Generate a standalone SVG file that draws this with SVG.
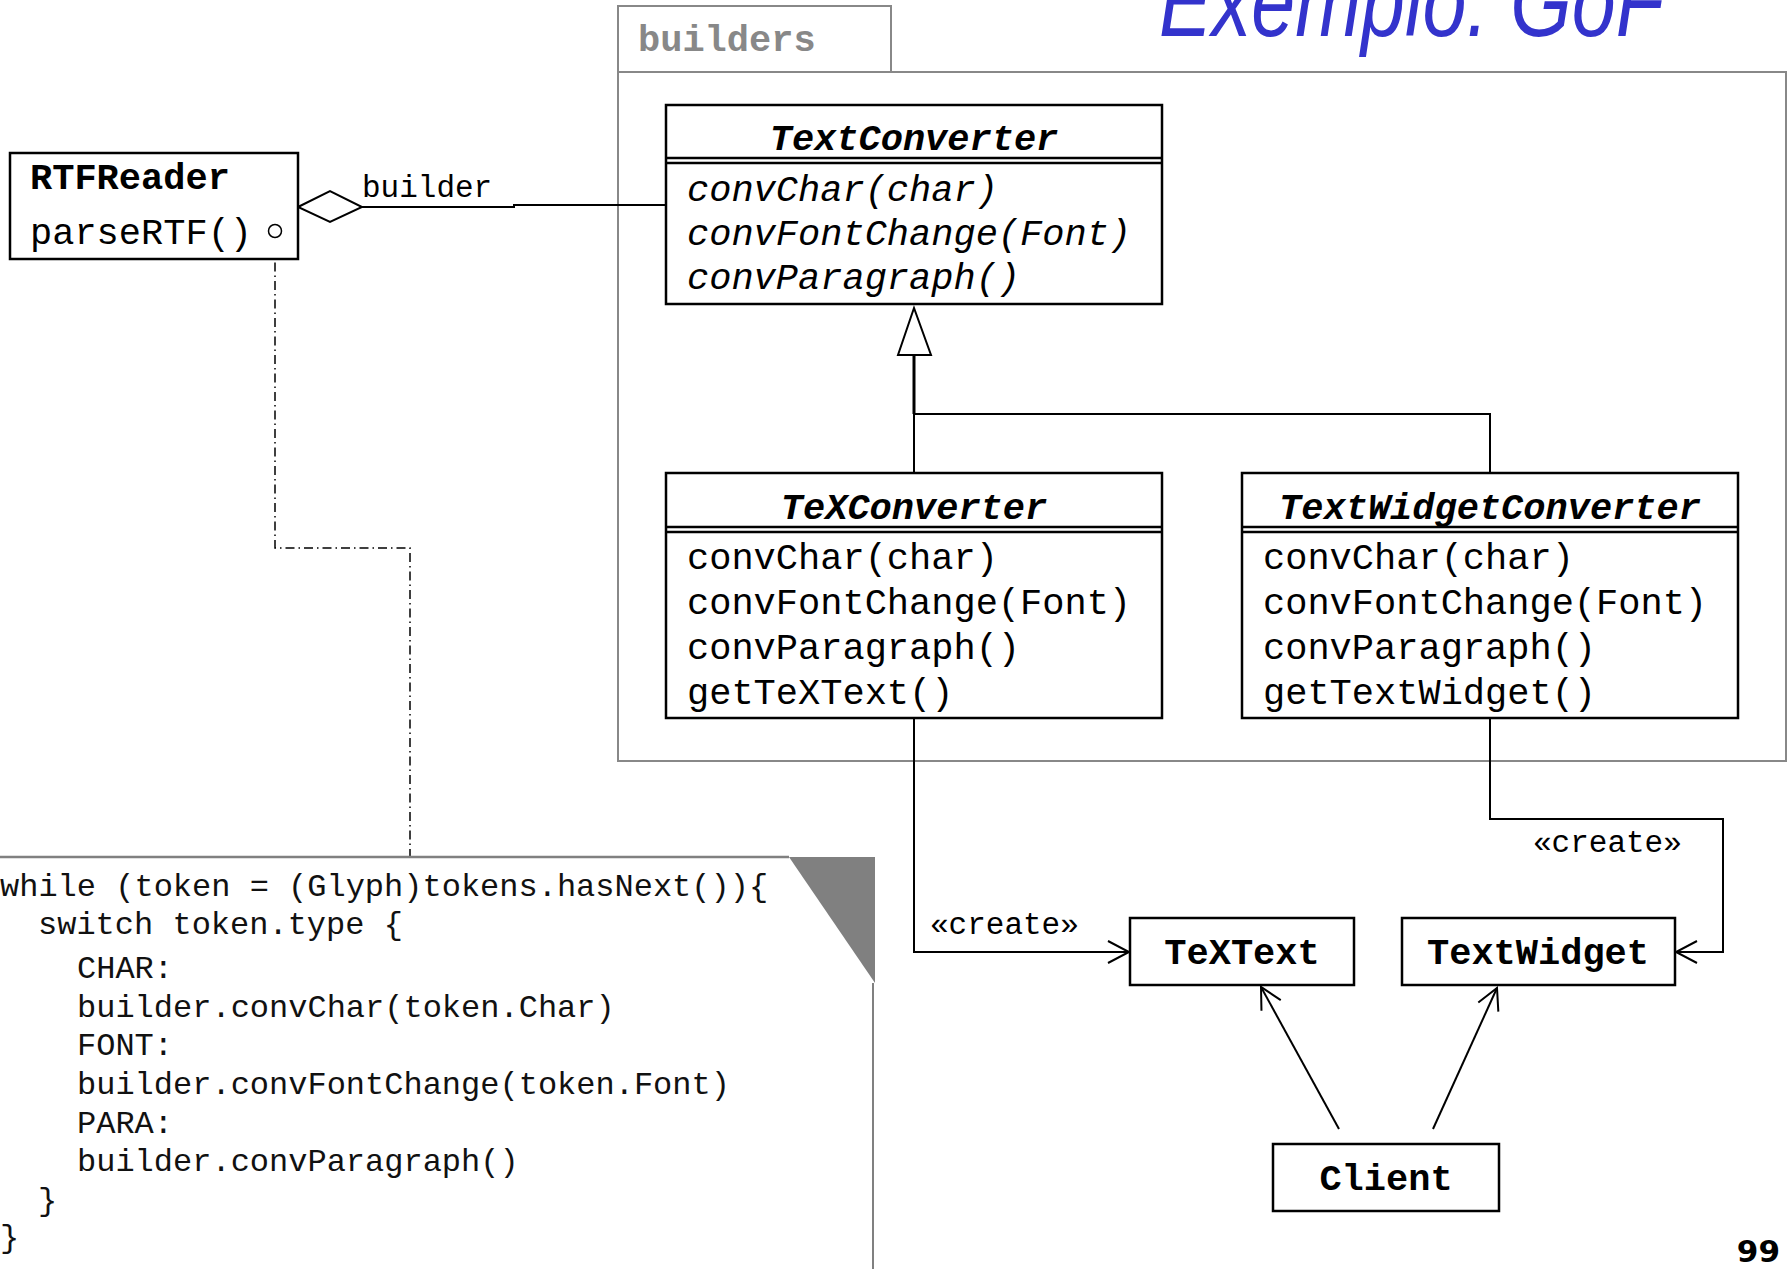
<svg xmlns="http://www.w3.org/2000/svg" width="1790" height="1269" viewBox="0 0 1790 1269">
<style>
  .box{fill:#fff;stroke:#000;stroke-width:2.5}
  .ln{fill:none;stroke:#000;stroke-width:2}
  .mono{font-family:"Liberation Mono","Courier New",monospace;fill:#000}
  .m37{font-size:37px}
  .b{font-weight:bold}
  .i{font-style:italic}
  .pkg{fill:none;stroke:#888;stroke-width:2}
  .note{font-family:"Liberation Mono","Courier New",monospace;font-size:32px;fill:#111}
  .lbl{font-family:"Liberation Mono","Courier New",monospace;font-size:31px;fill:#000}
</style>
<defs>
  <marker id="open" markerUnits="userSpaceOnUse" markerWidth="30" markerHeight="30" viewBox="-25 -15 30 30" refX="0" refY="0" orient="auto">
    <path d="M-21,-11 L0,0 L-21,11" fill="none" stroke="#000" stroke-width="2"/>
  </marker>
</defs>
<rect width="1790" height="1269" fill="#fff"/>

<text x="1159" y="36" font-family="Liberation Sans, Arial, sans-serif" font-style="italic" font-size="100" fill="#3333cc" textLength="505" lengthAdjust="spacingAndGlyphs">Exemplo: GoF</text>

<g id="package-builders">
  <rect class="pkg" x="618" y="6" width="273" height="66"/>
  <rect class="pkg" x="618" y="72" width="1168" height="689"/>
  <text x="638" y="51" font-family="Liberation Mono, monospace" font-weight="bold" font-size="37" fill="#888">builders</text>
</g>

<g id="connectors">
  <polyline class="ln" points="362,207 514,207 514,205 666,205"/>
  <polygon points="298,207 330,191 362,207 330,222" fill="#fff" stroke="#000" stroke-width="2"/>
  <text class="lbl" x="362" y="197" font-size="31">builder</text>
  <line x1="275" y1="238" x2="275" y2="244" stroke="#000" stroke-width="1.5"/>
  <polyline points="275,244 275,548 410,548 410,857" fill="none" stroke="#000" stroke-width="1.5" stroke-dasharray="9,4,1.5,4"/>
  <line x1="914" y1="355" x2="914" y2="414" stroke="#000" stroke-width="3"/>
  <polygon points="914,308 898,355 931,355" fill="#fff" stroke="#000" stroke-width="2"/>
  <polyline class="ln" points="914,414 914,473"/>
  <polyline class="ln" points="914,414 1490,414 1490,473"/>
  <polyline class="ln" points="914,718 914,952 1129,952" marker-end="url(#open)"/>
  <text class="lbl" x="930" y="934">«create»</text>
  <polyline class="ln" points="1490,718 1490,819 1723,819 1723,952 1676,952" marker-end="url(#open)"/>
  <text class="lbl" x="1533" y="852">«create»</text>
  <line class="ln" x1="1339" y1="1129" x2="1261" y2="987" marker-end="url(#open)"/>
  <line class="ln" x1="1433" y1="1129" x2="1497" y2="988" marker-end="url(#open)"/>
</g>

<g id="RTFReader">
  <rect class="box" x="10" y="153" width="288" height="106"/>
  <text class="mono m37 b" x="30" y="189">RTFReader</text>
  <text class="mono m37" x="30" y="244">parseRTF()</text>
  <circle cx="275" cy="231" r="6.5" fill="#fff" stroke="#000" stroke-width="1.5"/>
</g>

<g id="TextConverter">
  <rect class="box" x="666" y="105" width="496" height="199"/>
  <line x1="666" y1="158" x2="1162" y2="158" stroke="#000" stroke-width="2.5"/>
  <line x1="666" y1="163" x2="1162" y2="163" stroke="#000" stroke-width="2.5"/>
  <text class="mono m37 b i" x="914" y="150" text-anchor="middle">TextConverter</text>
  <text class="mono m37 i" x="687" y="201">convChar(char)</text>
  <text class="mono m37 i" x="687" y="245">convFontChange(Font)</text>
  <text class="mono m37 i" x="687" y="289">convParagraph()</text>
</g>

<g id="TeXConverter">
  <rect class="box" x="666" y="473" width="496" height="245"/>
  <line x1="666" y1="527" x2="1162" y2="527" stroke="#000" stroke-width="2.5"/>
  <line x1="666" y1="532" x2="1162" y2="532" stroke="#000" stroke-width="2.5"/>
  <text class="mono m37 b i" x="914" y="519" text-anchor="middle">TeXConverter</text>
  <text class="mono m37" x="687" y="569">convChar(char)</text>
  <text class="mono m37" x="687" y="614">convFontChange(Font)</text>
  <text class="mono m37" x="687" y="659">convParagraph()</text>
  <text class="mono m37" x="687" y="704">getTeXText()</text>
</g>

<g id="TextWidgetConverter">
  <rect class="box" x="1242" y="473" width="496" height="245"/>
  <line x1="1242" y1="527" x2="1738" y2="527" stroke="#000" stroke-width="2.5"/>
  <line x1="1242" y1="532" x2="1738" y2="532" stroke="#000" stroke-width="2.5"/>
  <text class="mono m37 b i" x="1490" y="519" text-anchor="middle">TextWidgetConverter</text>
  <text class="mono m37" x="1263" y="569">convChar(char)</text>
  <text class="mono m37" x="1263" y="614">convFontChange(Font)</text>
  <text class="mono m37" x="1263" y="659">convParagraph()</text>
  <text class="mono m37" x="1263" y="704">getTextWidget()</text>
</g>

<g id="TeXText">
  <rect class="box" x="1130" y="918" width="224" height="67"/>
  <text class="mono m37 b" x="1242" y="964" text-anchor="middle">TeXText</text>
</g>

<g id="TextWidget">
  <rect class="box" x="1402" y="918" width="273" height="67"/>
  <text class="mono m37 b" x="1538" y="964" text-anchor="middle">TextWidget</text>
</g>

<g id="Client">
  <rect class="box" x="1273" y="1144" width="226" height="67"/>
  <text class="mono m37 b" x="1386" y="1190" text-anchor="middle">Client</text>
</g>

<g id="note">
  <polyline points="-2,857 789,857" fill="none" stroke="#808080" stroke-width="2.5"/>
  <polygon points="789,857 875,857 875,983" fill="#808080"/>
  <line x1="873" y1="983" x2="873" y2="1272" stroke="#808080" stroke-width="2"/>
  <text class="note" x="0" y="896">while (token = (Glyph)tokens.hasNext()){</text>
  <text class="note" x="38" y="934">switch token.type {</text>
  <text class="note" x="77" y="978">CHAR:</text>
  <text class="note" x="77" y="1017">builder.convChar(token.Char)</text>
  <text class="note" x="77" y="1055">FONT:</text>
  <text class="note" x="77" y="1094">builder.convFontChange(token.Font)</text>
  <text class="note" x="77" y="1133">PARA:</text>
  <text class="note" x="77" y="1171">builder.convParagraph()</text>
  <text class="note" x="38" y="1210">}</text>
  <text class="note" x="0" y="1247">}</text>
</g>

<text x="1780" y="1262" text-anchor="end" font-family="DejaVu Sans, sans-serif" font-weight="bold" font-size="31" fill="#000">99</text>
</svg>
